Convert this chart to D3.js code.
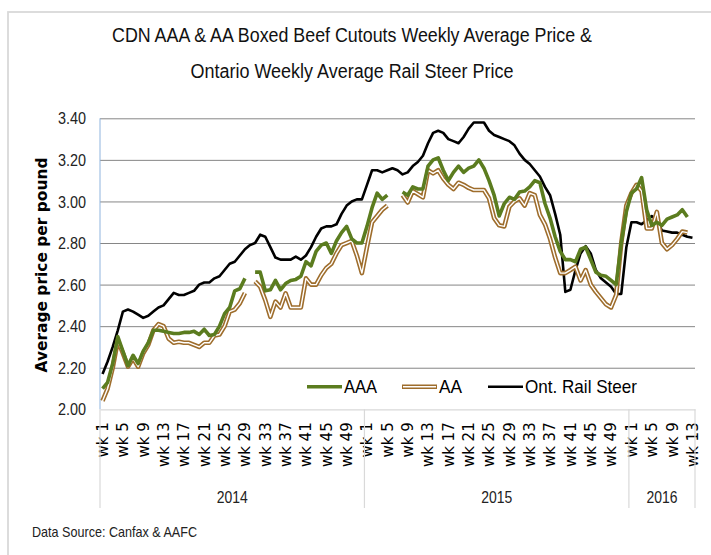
<!DOCTYPE html>
<html>
<head>
<meta charset="utf-8">
<script src="https://cdn.jsdelivr.net/npm/d3@7/dist/d3.min.js"></script>
<style>
  html, body { margin: 0; padding: 0; background: #fff; }
  svg { display: block; }
</style>
</head>
<body>
<svg id="chart" width="711" height="555"></svg>
<script>
// ---------- DATA ----------
const years = ["2014", "2015", "2016"];
const weeksPerYear = [52, 52, 13];
const yTicks = [2.00, 2.20, 2.40, 2.60, 2.80, 3.00, 3.20, 3.40];
const seriesNames = ["AAA", "AA", "Ont. Rail Steer"];

// CDN AAA boxed beef cutout ($/lb), 2014 wk1 .. 2016 wk13
const aaa = [
  2.10, 2.13, 2.22, 2.35, 2.28, 2.21, 2.26, 2.22, 2.28, 2.32, 2.38, 2.38, 2.375,
  2.37, 2.365, 2.365, 2.37, 2.37, 2.375, 2.36, 2.385, 2.355, 2.36, 2.40, 2.46, 2.49,
  2.57, 2.58, 2.63, null, 2.66, 2.66, 2.57, 2.575, 2.62, 2.575, 2.605, 2.62, 2.625,
  2.64, 2.71, 2.69, 2.76, 2.79, 2.80, 2.75, 2.81, 2.85, 2.88, 2.82, 2.80, 2.80,
  // 2015
  2.88, 2.97, 3.04, 3.01, 3.03, null, null, 3.045, 3.03, 3.07, 3.06, 3.06, 3.17,
  3.20, 3.21, 3.15, 3.10, 3.14, 3.17, 3.14, 3.16, 3.17, 3.20, 3.16, 3.10, 3.03,
  2.93, 2.99, 3.02, 3.01, 3.045, 3.05, 3.07, 3.10, 3.09, 2.99, 2.92, 2.83, 2.76,
  2.72, 2.72, 2.71, 2.77, 2.78, 2.72, 2.66, 2.645, 2.64, 2.62, 2.60, 2.80, 2.95,
  // 2016
  3.04, 3.06, 3.115, 2.96, 2.885, 2.90, 2.885, 2.915, 2.925, 2.935, 2.96, 2.925, null
];

// CDN AA boxed beef cutout ($/lb)
const aa = [
  2.04, 2.10, 2.20, 2.33, 2.27, 2.205, 2.245, 2.205, 2.27, 2.31, 2.38, 2.41, 2.40,
  2.34, 2.32, 2.325, 2.32, 2.32, 2.31, 2.30, 2.32, 2.32, 2.355, 2.36, 2.40, 2.47,
  2.48, 2.51, 2.56, null, 2.615, 2.59, 2.525, 2.445, 2.518, 2.49, 2.558, 2.49, 2.49,
  2.49, 2.63, 2.60, 2.60, 2.645, 2.68, 2.70, 2.75, 2.79, 2.80, 2.81, 2.74, 2.655,
  // 2015
  2.78, 2.90, 2.93, 2.96, 2.98, null, null, 3.03, 2.995, 3.05, 3.035, 3.02, 3.15,
  3.135, 3.15, 3.11, 3.08, 3.06, 3.09, 3.08, 3.065, 3.055, 3.055, 3.055, 3.015, 2.92,
  2.885, 2.88, 2.975, 3.00, 3.015, 2.98, 3.04, 3.03, 2.935, 2.89, 2.82, 2.73, 2.655,
  2.655, 2.67, 2.686, 2.62, 2.67, 2.60, 2.565, 2.535, 2.505, 2.49, 2.55, 2.80, 2.98,
  // 2016
  3.04, 3.08, 3.05, 2.87, 2.87, 2.95, 2.80, 2.77, 2.79, 2.82, 2.855, 2.85, null
];

// Ontario weekly average rail steer price ($/lb)
const rail = [
  2.17, 2.23, 2.30, 2.38, 2.47, 2.48, 2.47, 2.455, 2.44, 2.45, 2.47, 2.49, 2.50,
  2.53, 2.56, 2.55, 2.55, 2.56, 2.57, 2.60, 2.61, 2.61, 2.63, 2.64, 2.67, 2.70,
  2.71, 2.74, 2.77, 2.79, 2.80, 2.84, 2.83, 2.78, 2.73, 2.72, 2.72, 2.72, 2.735,
  2.72, 2.74, 2.78, 2.83, 2.87, 2.88, 2.88, 2.89, 2.94, 2.98, 3.00, 3.01, 3.01,
  // 2015
  3.08, 3.15, 3.15, 3.14, 3.15, 3.16, 3.15, 3.13, 3.14, 3.17, 3.19, 3.22, 3.28,
  3.33, 3.34, 3.33, 3.30, 3.29, 3.28, 3.31, 3.35, 3.38, 3.38, 3.38, 3.34, 3.32,
  3.31, 3.30, 3.29, 3.27, 3.23, 3.20, 3.18, 3.15, 3.12, 3.07, 3.03, 2.94, 2.84,
  2.565, 2.575, 2.67, 2.75, 2.785, 2.75, 2.67, 2.63, 2.61, 2.59, 2.555, 2.555, 2.78,
  // 2016
  2.90, 2.90, 2.89, 2.91, 2.93, 2.91, 2.86, 2.855, 2.85, 2.85, 2.84, 2.83, 2.825
];

// ---------- BUILD CATEGORIES ----------
const categories = [];
years.forEach((yr, yi) => {
  for (let w = 1; w <= weeksPerYear[yi]; w++) categories.push({ key: yr + "-" + w, year: yr, week: w });
});

// ---------- LAYOUT ----------
const svg = d3.select("#chart");
const plot = { left: 100, right: 695, top: 118.3, bottom: 409.3 };
const greenC = "#5b7c1f", brownC = "#9e6d2c", blackC = "#000000";

// frame
svg.append("rect").attr("x", 8).attr("y", 12).attr("width", 720).attr("height", 560)
  .attr("fill", "none").attr("stroke", "#d9d9d9").attr("stroke-width", 1.8);

const x = d3.scaleBand().domain(categories.map(d => d.key)).range([plot.left, plot.right]).padding(0);
const y = d3.scaleLinear().domain([2.0, 3.4]).range([plot.bottom, plot.top]);
const cx = k => x(k) + x.bandwidth() / 2;

// gridlines
const grid = svg.append("g").attr("transform", `translate(${plot.left},0)`)
  .call(d3.axisLeft(y).tickValues(yTicks.filter(t => t > 2.0)).tickSize(-(plot.right - plot.left)).tickFormat(""));
grid.select(".domain").remove();
grid.selectAll("line").attr("stroke", "#868686").attr("stroke-width", 1);

// y tick labels
const yAx = svg.append("g").attr("transform", `translate(${plot.left - 14},0)`)
  .call(d3.axisLeft(y).tickValues(yTicks).tickSize(0).tickFormat(d3.format(".2f")));
yAx.select(".domain").remove();
yAx.selectAll("text").attr("font-family", "Liberation Sans, Arial, sans-serif")
  .attr("font-size", 16).attr("fill", "#222").attr("x", 0).attr("dy", "0.35em")
  .each(function () { const l = this.getComputedTextLength(); d3.select(this).attr("textLength", l * 0.9).attr("lengthAdjust", "spacingAndGlyphs"); });

// y axis line (light blue)
svg.append("line").attr("x1", plot.left).attr("x2", plot.left).attr("y1", plot.top).attr("y2", plot.bottom)
  .attr("stroke", "#8fb4de").attr("stroke-width", 1);

// x axis
const labelWeeks = categories.filter(d => (d.week - 1) % 4 === 0);
const xAx = svg.append("g").attr("transform", `translate(0,${plot.bottom})`)
  .call(d3.axisBottom(x).tickValues(labelWeeks.map(d => d.key)).tickSize(0)
    .tickFormat(k => "wk " + categories.find(c => c.key === k).week));
xAx.select(".domain").attr("stroke", "#d9d9d9").attr("stroke-width", 1.2);
xAx.selectAll("text").attr("font-family", "DejaVu Sans, sans-serif").attr("font-size", 15)
  .attr("fill", "#000").attr("transform", "rotate(-90)").attr("text-anchor", "end")
  .attr("x", -13).attr("y", 0).attr("dy", "0.36em");

// year group separators and labels
let start = 0;
const seps = [plot.left];
years.forEach((yr, yi) => {
  const first = categories[start].key;
  const last = categories[start + weeksPerYear[yi] - 1].key;
  const x0 = x(first), x1 = x(last) + x.bandwidth();
  seps.push(x1);
  const t = svg.append("text").attr("x", (x0 + x1) / 2).attr("y", 503).attr("text-anchor", "middle")
    .attr("font-family", "Liberation Sans, Arial, sans-serif").attr("font-size", 17).attr("fill", "#222").text(yr);
  t.attr("textLength", t.node().getComputedTextLength() * 0.82).attr("lengthAdjust", "spacingAndGlyphs");
  start += weeksPerYear[yi];
});
svg.selectAll("line.sep").data(seps).enter().append("line").attr("class", "sep")
  .attr("x1", d => d).attr("x2", d => d).attr("y1", plot.bottom).attr("y2", 508)
  .attr("stroke", "#d9d9d9").attr("stroke-width", 1.2);

// lines
const lineGen = d3.line().defined(d => d.v != null).x(d => cx(d.k)).y(d => y(d.v));
const toPts = arr => categories.map((c, i) => ({ k: c.key, v: arr[i] }));

svg.append("path").datum(toPts(rail)).attr("d", lineGen).attr("fill", "none")
  .attr("stroke", blackC).attr("stroke-width", 2.6).attr("stroke-linejoin", "round");
svg.append("path").datum(toPts(aa)).attr("d", lineGen).attr("fill", "none")
  .attr("stroke", brownC).attr("stroke-width", 4.6).attr("stroke-linejoin", "round");
svg.append("path").datum(toPts(aa)).attr("d", lineGen).attr("fill", "none")
  .attr("stroke", "#fff").attr("stroke-width", 1.4).attr("stroke-linejoin", "round");
svg.append("path").datum(toPts(aaa)).attr("d", lineGen).attr("fill", "none")
  .attr("stroke", greenC).attr("stroke-width", 3.6).attr("stroke-linejoin", "round");

// legend
const ly = 386.7;
const legendItems = [
  { name: seriesNames[0], x: 307, type: "aaa", tw: 33 },
  { name: seriesNames[1], x: 402, type: "aa", tw: 23 },
  { name: seriesNames[2], x: 488, type: "rail", tw: 112 }
];
legendItems.forEach(it => {
  const g = svg.append("g");
  if (it.type === "aaa") {
    g.append("line").attr("x1", it.x).attr("x2", it.x + 35).attr("y1", ly).attr("y2", ly).attr("stroke", greenC).attr("stroke-width", 3.6);
  } else if (it.type === "aa") {
    g.append("line").attr("x1", it.x).attr("x2", it.x + 35).attr("y1", ly).attr("y2", ly).attr("stroke", brownC).attr("stroke-width", 4.6);
    g.append("line").attr("x1", it.x + 1).attr("x2", it.x + 34).attr("y1", ly).attr("y2", ly).attr("stroke", "#fff").attr("stroke-width", 1.4);
  } else {
    g.append("line").attr("x1", it.x).attr("x2", it.x + 35).attr("y1", ly).attr("y2", ly).attr("stroke", blackC).attr("stroke-width", 2.6);
  }
  g.append("text").attr("x", it.x + 37).attr("y", ly + 6.5).attr("font-family", "Liberation Sans, Arial, sans-serif")
    .attr("font-size", 19).attr("fill", "#000").attr("textLength", it.tw).attr("lengthAdjust", "spacingAndGlyphs").text(it.name);
});

// y axis title
svg.append("text").attr("transform", "translate(47,265) rotate(-90)").attr("text-anchor", "middle")
  .attr("font-family", "DejaVu Sans, sans-serif").attr("font-weight", "bold").attr("font-size", 15)
  .attr("fill", "#000").attr("textLength", 215).attr("lengthAdjust", "spacingAndGlyphs")
  .text("Average price per pound");

// title
const title1 = "CDN AAA & AA Boxed Beef Cutouts Weekly Average Price &";
const title2 = "Ontario Weekly Average Rail Steer Price";
svg.append("text").attr("x", 352).attr("y", 42).attr("text-anchor", "middle")
  .attr("font-family", "Liberation Sans, Arial, sans-serif").attr("font-size", 20).attr("fill", "#111")
  .attr("textLength", 480).attr("lengthAdjust", "spacingAndGlyphs").text(title1);
svg.append("text").attr("x", 352).attr("y", 78).attr("text-anchor", "middle")
  .attr("font-family", "Liberation Sans, Arial, sans-serif").attr("font-size", 20).attr("fill", "#111")
  .attr("textLength", 323).attr("lengthAdjust", "spacingAndGlyphs").text(title2);

// source
svg.append("text").attr("x", 32).attr("y", 537)
  .attr("font-family", "Liberation Sans, Arial, sans-serif").attr("font-size", 15).attr("fill", "#222")
  .attr("textLength", 165).attr("lengthAdjust", "spacingAndGlyphs").text("Data Source: Canfax & AAFC");
</script>
</body>
</html>
